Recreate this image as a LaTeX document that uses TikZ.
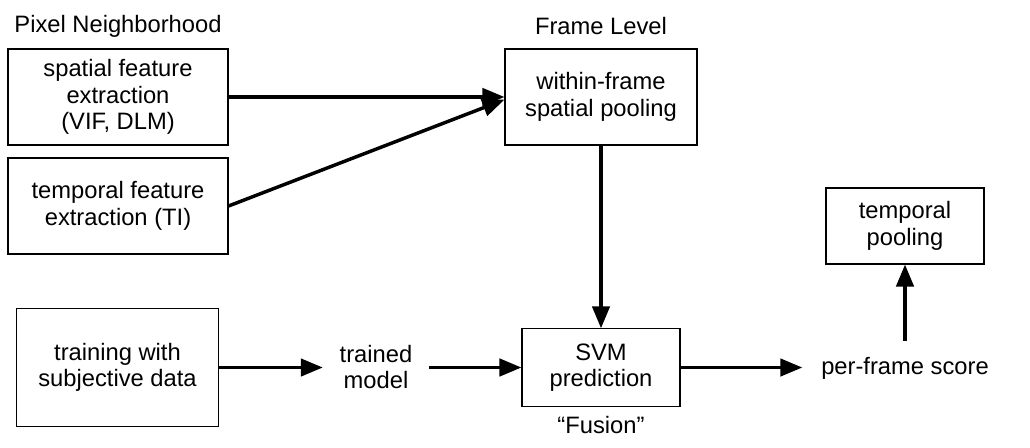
\documentclass[tikz,border=0pt]{standalone}
\usepackage{fontspec}
\setmainfont{Liberation Sans}
\usetikzlibrary{arrows.meta}
\begin{document}
\begin{tikzpicture}[x=0.75pt,y=-0.75pt,
  every node/.style={font=\fontsize{17.8}{20}\selectfont, align=center},
  box/.style={draw, line width=0.8pt, rectangle, inner sep=0pt},
  plain/.style={inner sep=0pt},
  arr/.style={line width=2.6pt, -{Triangle[length=16.5pt,width=13pt]}}]
\useasboundingbox (0,0) rectangle (1030,447);
\node[plain] (pn) at (118,26) {Pixel Neighborhood};
\node[plain] (fl) at (601,26) {Frame Level};
\node[box, minimum width=165pt, minimum height=72pt] (sp) at (118,97) {spatial feature\\extraction\\(VIF, DLM)};
\node[box, minimum width=165pt, minimum height=72pt] (tf) at (118,206) {temporal feature\\extraction (TI)};
\node[box, minimum width=144pt, minimum height=72pt] (wf) at (601,97) {within-frame\\spatial pooling};
\node[box, minimum width=118.5pt, minimum height=58pt] (svm) at (601,367.5) {SVM\\prediction};
\node[box, minimum width=118.5pt, minimum height=57pt] (tp) at (905,226) {temporal\\pooling};
\node[box, minimum width=151pt, minimum height=88pt] (tr) at (117.5,367.5) {training with\\subjective data};
\node[plain] (tm) at (376,367) {trained\\model};
\node[plain] (pfs) at (905,368) {per-frame score};
\node[plain] (fu) at (601,425) {“Fusion”};
\draw[arr] (sp.east) -- (wf.west);
\draw[arr] (tf.east) -- ([yshift=-2pt]wf.west);
\draw[arr] (wf.south) -- (svm.north);
\draw[arr, shorten >=12.5pt] (tr.east) -- (tm.west |- tr.east);
\draw[arr, shorten <=12pt] (tm.east |- svm.west) -- (svm.west);
\draw[arr, shorten >=14pt] (svm.east) -- (pfs.west |- svm.east);
\draw[arr, shorten <=12pt] (pfs.north) -- (tp.south);
\end{tikzpicture}
\end{document}
